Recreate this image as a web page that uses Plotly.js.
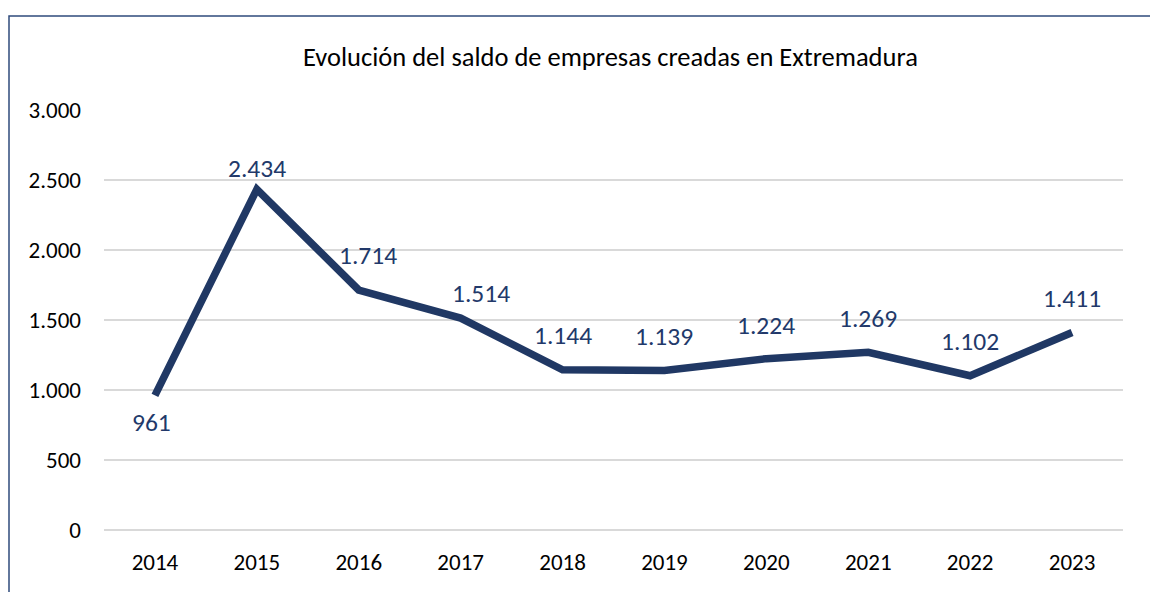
<!DOCTYPE html>
<html>
<head>
<meta charset="utf-8">
<script src="https://cdn.plot.ly/plotly-3.0.1.min.js"></script>
<style>html,body{margin:0;padding:0;background:#fff;}#chart{width:1150px;height:592px;}</style>
</head>
<body>
<div id="chart"></div>
<script>
const years = [2014, 2015, 2016, 2017, 2018, 2019, 2020, 2021, 2022, 2023];
const yearLabels = ['2014','2015','2016','2017','2018','2019','2020','2021','2022','2023'];
const saldo = [961, 2434, 1714, 1514, 1144, 1139, 1224, 1269, 1102, 1411];
const labels = ['961','2.434','1.714','1.514','1.144','1.139','1.224','1.269','1.102','1.411'];
const yTickVals = [0, 500, 1000, 1500, 2000, 2500, 3000];
const yTickText = ['0','500','1.000','1.500','2.000','2.500','3.000'];

const FONT = 'Carlito, Calibri, Lato, sans-serif';
const labelShiftX = [-3, 0, 9, 20, 0, 0, 0, 0, 0, 0];
const labelShiftY = [-27, 21, 35, 25, 34, 34, 33, 34, 34, 34];

const annotations = years.map((yr, i) => ({
  x: yr, y: saldo[i], xref: 'x', yref: 'y',
  text: labels[i], showarrow: false,
  xshift: labelShiftX[i], yshift: labelShiftY[i],
  font: {family: FONT, size: 25.5, color: '#22396a'}
}));

const trace = {
  type: 'scatter', mode: 'lines',
  x: years, y: saldo,
  line: {color: '#203864', width: 7.5, shape: 'linear'},
  hoverinfo: 'skip'
};

const layout = {
  width: 1150, height: 592,
  margin: {l: 104, r: 27, t: 110, b: 62},
  paper_bgcolor: '#ffffff', plot_bgcolor: '#ffffff',
  showlegend: false,
  title: {
    text: 'Evolución del saldo de empresas creadas en Extremadura',
    font: {family: FONT, size: 26.5, color: '#000000'},
    xref: 'paper', x: 0.497, xanchor: 'center',
    yref: 'container', y: 1 - 57/592, yanchor: 'middle'
  },
  xaxis: {
    type: 'linear', range: [2013.5, 2023.5],
    tickvals: years, ticktext: yearLabels,
    showgrid: false, zeroline: false, showline: false,
    ticks: '', tickfont: {family: FONT, size: 23, color: '#000000'},
    ticklabelstandoff: 16, fixedrange: true
  },
  yaxis: {
    range: [0, 3000], tickvals: yTickVals, ticktext: yTickText,
    showgrid: true, gridcolor: '#d9d9d9', gridwidth: 1.5,
    zeroline: true, zerolinecolor: '#d9d9d9', zerolinewidth: 1.5,
    showline: false, ticks: '',
    tickfont: {family: FONT, size: 23, color: '#000000'},
    ticklabelstandoff: 22, fixedrange: true
  },
  annotations: annotations,
  shapes: [{
    type: 'rect', xref: 'paper', yref: 'paper',
    x0: (9 - 104) / 1019, x1: 1.3, y0: -0.5, y1: (530 - 16) / 420,
    line: {color: '#2f4b7c', width: 1.5}, fillcolor: 'rgba(0,0,0,0)', layer: 'above'
  }]
};

Plotly.newPlot('chart', [trace], layout, {displayModeBar: false, staticPlot: true});
</script>
</body>
</html>
